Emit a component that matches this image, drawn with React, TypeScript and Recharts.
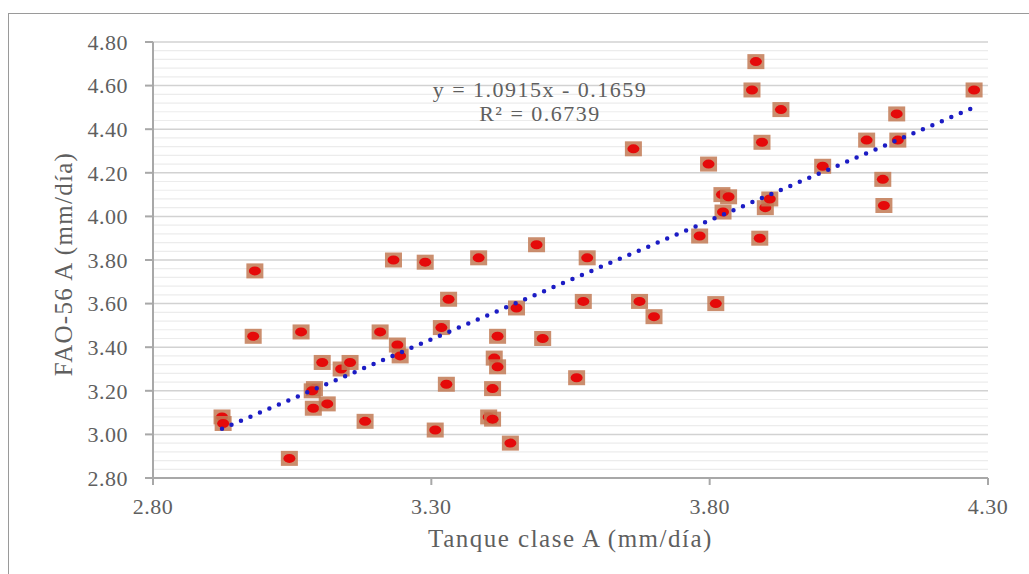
import React from "react";
import { ScatterChart, Scatter, XAxis, YAxis, CartesianGrid, ReferenceLine } from "recharts";

// Tanque clase A (x) vs FAO-56 A (y), mm/día
const tanqueA = [
  2.924, 2.926, 2.983, 2.98, 3.045, 3.066, 3.104, 3.09, 3.086, 3.088, 3.113, 3.138, 3.154, 3.181,
  3.208, 3.232, 3.239, 3.244, 3.289, 3.307, 3.318, 3.331, 3.327, 3.385, 3.403, 3.41, 3.41, 3.413,
  3.419, 3.419, 3.442, 3.453, 3.489, 3.5, 3.561, 3.573, 3.58, 3.663, 3.674, 3.7, 3.798, 3.782,
  3.811, 3.822, 3.834, 3.824, 3.876, 3.883, 3.894, 3.89, 3.9, 3.908, 3.928, 4.003, 4.082, 4.111,
  4.113, 4.136, 4.138, 4.275,
];
const fao56 = [
  3.08, 3.05, 3.75, 3.45, 2.89, 3.47, 3.33, 3.21, 3.2, 3.12, 3.14, 3.3, 3.33, 3.06,
  3.47, 3.8, 3.41, 3.36, 3.79, 3.02, 3.49, 3.62, 3.23, 3.81, 3.08, 3.07, 3.21, 3.35,
  3.31, 3.45, 2.96, 3.58, 3.87, 3.44, 3.26, 3.61, 3.81, 4.31, 3.61, 3.54, 4.24, 3.91,
  3.6, 4.1, 4.09, 4.02, 4.58, 4.71, 4.34, 3.9, 4.04, 4.08, 4.49, 4.23, 4.35, 4.17,
  4.05, 4.47, 4.35, 4.58,
];

const xTicks = [2.8, 3.3, 3.8, 4.3];
const yTicks = [2.8, 3.0, 3.2, 3.4, 3.6, 3.8, 4.0, 4.2, 4.4, 4.6, 4.8];

const slope = 1.0915;
const intercept = -0.1659;
const r2 = 0.6739;

const points = tanqueA.map((x, i) => ({ x, y: fao56[i] }));
const xMin = Math.min(...tanqueA);
const xMax = Math.max(...tanqueA);
const trend = [
  { x: xMin, y: slope * xMin + intercept },
  { x: xMax, y: slope * xMax + intercept },
];

// minor gridlines: 4 between each pair of major ticks
const minorY: number[] = [];
for (let i = 0; i < yTicks.length - 1; i++) {
  const step = (yTicks[i + 1] - yTicks[i]) / 5;
  for (let k = 1; k < 5; k++) minorY.push(yTicks[i] + step * k);
}

const serif = "'Liberation Serif', 'Times New Roman', serif";
const textGrey = "#5f5f5f";
const axisGrey = "#a8a8a8";

const Marker = (props: any) => {
  const { cx, cy } = props;
  if (cx == null || cy == null) return null;
  return (
    <g>
      <rect x={cx - 8.5} y={cy - 7.5} width={17} height={15} fill="#c27a55" fillOpacity={0.85} />
      <ellipse cx={cx} cy={cy} rx={6} ry={4.5} fill="#e50a0a" />
    </g>
  );
};

const tickStyle = { fill: textGrey, fontSize: 22, fontFamily: serif, letterSpacing: 0.5 };

export default function App() {
  return (
    <div
      style={{
        position: "absolute",
        left: 8,
        top: 13,
        width: 1021,
        height: 561,
        boxSizing: "border-box",
        borderTop: "1px solid #9a9a9a",
        borderLeft: "1px solid #9a9a9a",
        background: "#fff",
        overflow: "hidden",
      }}
    >
      <ScatterChart width={1010} height={540} margin={{ top: 28, right: 31, left: 64, bottom: 0 }}>
        {minorY.map((v) => (
          <ReferenceLine key={v} y={v} stroke="#ececec" strokeWidth={1.2} />
        ))}
        <CartesianGrid vertical={false} stroke="#d2d2d2" strokeWidth={1.5} />
        <XAxis
          type="number"
          dataKey="x"
          domain={[2.8, 4.3]}
          ticks={xTicks}
          tickFormatter={(v) => Number(v).toFixed(2)}
          tick={tickStyle}
          tickSize={7}
          tickMargin={13}
          height={76}
          stroke={axisGrey}
          strokeWidth={2}
          label={{
            value: "Tanque clase A (mm/día)",
            position: "insideBottom",
            offset: 7,
            fill: textGrey,
            fontSize: 25,
            fontFamily: serif,
            letterSpacing: 1.5,
          }}
        />
        <YAxis
          type="number"
          dataKey="y"
          domain={[2.8, 4.8]}
          ticks={yTicks}
          tickFormatter={(v) => Number(v).toFixed(2)}
          tick={tickStyle}
          tickSize={8}
          tickMargin={17}
          width={80}
          stroke={axisGrey}
          strokeWidth={2}
          label={{
            content: () => (
              <text
                x={63}
                y={250}
                transform="rotate(-90 63 250)"
                textAnchor="middle"
                fill={textGrey}
                fontSize={25}
                fontFamily={serif}
                letterSpacing={1.3}
              >
                FAO-56 A (mm/día)
              </text>
            ),
          }}
        />
        <Scatter data={points} shape={Marker} isAnimationActive={false} />
        <Scatter
          data={trend}
          shape={() => <g />}
          line={{ stroke: "#1c1cc4", strokeWidth: 4.5, strokeDasharray: "0 10.3", strokeLinecap: "round" }}
          isAnimationActive={false}
        />
      </ScatterChart>
      <div
        style={{
          position: "absolute",
          left: 0,
          width: 1062,
          top: 64,
          textAlign: "center",
          fontFamily: serif,
          fontSize: 22,
          lineHeight: "24px",
          letterSpacing: 1.5,
          color: textGrey,
        }}
      >
        <div>{`y = ${slope}x - ${Math.abs(intercept)}`}</div>
        <div>{`R² = ${r2}`}</div>
      </div>
    </div>
  );
}
